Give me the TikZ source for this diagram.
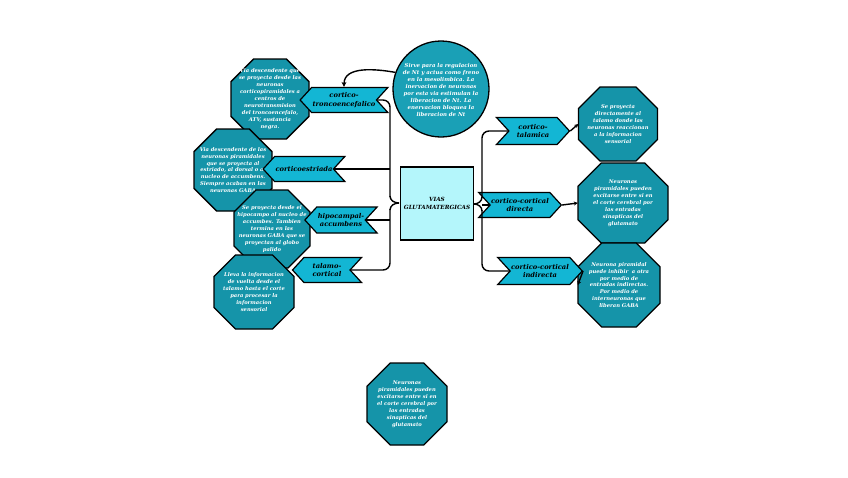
\documentclass[tikz,border=0pt]{standalone}
\usepackage{fontspec}
\setmainfont{DejaVu Serif}
\usetikzlibrary{shapes.geometric,shapes.symbols,arrows.meta}
\definecolor{octc}{HTML}{1594A9}
\definecolor{chevc}{HTML}{13B6D4}
\definecolor{circc}{HTML}{1AA0B6}
\definecolor{boxc}{HTML}{B4F6FB}
\tikzset{
  octline/.style={draw=black, line width=1.3pt, fill=octc},
  octtext/.style={inner sep=0pt, align=center, text=white, font=\fontsize{5.2}{6.9}\selectfont\bfseries\itshape},
  lab/.style={draw=black, line width=1.2pt, fill=chevc, signal, inner sep=1pt, align=center, font=\fontsize{6.7}{8.2}\selectfont\bfseries\itshape, minimum height=25pt},
  labL/.style={lab, signal to=west, signal from=east, signal pointer angle=95},
  labR/.style={lab, signal to=east, signal from=west, signal pointer angle=95},
  conn/.style={draw=black, line width=1.4pt},
}
\newcommand\octa[6]{%
  \pgfmathsetmacro\occ{0.29*min(#4,#5)}%
  \filldraw[octline] (#2-#4/2+\occ,#3-#5/2) -- (#2+#4/2-\occ,#3-#5/2) -- (#2+#4/2,#3-#5/2+\occ) -- (#2+#4/2,#3+#5/2-\occ) -- (#2+#4/2-\occ,#3+#5/2) -- (#2-#4/2+\occ,#3+#5/2) -- (#2-#4/2,#3+#5/2-\occ) -- (#2-#4/2,#3-#5/2+\occ) -- cycle;
  \node[octtext, minimum width=#4pt, minimum height=#5pt] (#1) at (#2,#3) {#6};
}
\begin{document}
\begin{tikzpicture}[x=1pt,y=-1pt]
\useasboundingbox[fill=white] (0,0) rectangle (848,477);

% central box
\node[draw=black, line width=1.3pt, fill=boxc, minimum width=72pt, minimum height=73pt, align=center, font=\fontsize{5.7}{8}\selectfont\bfseries\itshape] (box) at (437,203.5) {VIAS\\GLUTAMATERGICAS};

% circle
\node[circle, draw=black, line width=1.3pt, fill=circc, minimum size=96pt, inner sep=0pt] (circ) at (441,89) {};
\node[octtext, font=\fontsize{5.4}{7.1}\selectfont\bfseries\itshape] (circt) at (441,90) {Sirve para la regulacion\\de Nt y actua como freno\\en la mesolimbica. La\\inervacion de neuronas\\por esta via estimulan la\\liberacion de Nt. La\\enervacion bloquea la\\liberacion de Nt};

% left octagons
\octa{o1}{270}{99}{78}{80}{Via descendente que\\se proyecta desde las\\neuronas\\corticopiramidales a\\centros de\\neurotransmision\\del troncoencefalo,\\ATV, sustancia\\negra.}
\octa{o2}{233}{170}{78}{82}{Via descendente de las\\neuronas piramidales\\que se proyecta al\\estriado, al dorsal o al\\nucleo de accumbens.\\Siempre acaban en las\\neuronas GABA}
\octa{o3}{272}{229}{76}{78}{Se proyecta desde el\\hipocampo al nucleo de\\accumbes. Tambien\\termina en las\\neuronas GABA que se\\proyectan al globo\\palido}
\octa{o4}{254}{292}{80}{74}{Lleva la informacion\\de vuelta desde el\\talamo hasta el corte\\para procesar la\\informacion\\sensorial}

% right octagons
\octa{r1}{618}{124}{79}{74}{Se proyecta\\directamente al\\talamo donde las\\neuronas reaccionan\\a la informacion\\sensorial}
\octa{r2}{623}{203}{90}{80}{Neuronas\\piramidales pueden\\excitarse entre si en\\el corte cerebral por\\las entradas\\sinapticas del\\glutamato}
\octa{r3}{619}{285}{82}{84}{Neurona piramidal\\puede inhibir \ a otra\\por medio de\\entradas indirectas.\\Por medio de\\interneuronas que\\liberan GABA}

% bottom octagon
\octa{b1}{407}{404}{80}{82}{Neuronas\\piramidales pueden\\excitarse entre si en\\el corte cerebral por\\las entradas\\sinapticas del\\glutamato}

% left labels
\node[labL, minimum width=72pt] (L1) at (344,100) {cortico-\\troncoencefalico};
\node[labL, minimum width=72pt] (L2) at (304,169) {corticoestriada};
\node[labL, minimum width=66pt, minimum height=26pt] (L3) at (341,220) {hipocampal-\\accumbens};
\node[labL, minimum width=69pt] (L4) at (327,270) {talamo-\\cortical};

% right labels
\node[labR, minimum width=73pt, minimum height=27pt] (R1) at (533,131) {cortico-\\talamica};
\node[labR, minimum width=71pt] (R2) at (520,205) {cortico-cortical\\directa};
\node[labR, minimum width=72pt, minimum height=27pt] (R3) at (540,271) {cortico-cortical\\indirecta};

% left brace
\coordinate (lt) at (399,203);
\draw[conn, rounded corners=7pt] (L1.east) -- (390,100) -- (390,197);
\draw[conn] (390,196) to[out=-90,in=180] (lt);
\draw[conn] (390,210) to[out=90,in=180] (lt);
\draw[conn, rounded corners=7pt] (L4.east) -- (390,270) -- (390,209);
\draw[conn] (L2.east) -- (390,169);
\draw[conn] (L3.east) -- (390,220);

% right brace
\coordinate (rt) at (474,204);
\draw[conn, rounded corners=7pt] (R1.west) -- (482,131) -- (482,198);
\draw[conn] (482,197) to[out=-90,in=0] (rt);
\draw[conn] (482,211) to[out=90,in=0] (rt);
\draw[conn, rounded corners=7pt] (R3.west) -- (482,271) -- (482,210);
\draw[conn] (R2.west) -- (482,205);

% arrows to octagons
\draw[conn, -{Stealth[length=4pt,width=4pt]}] (R1.east) -- (r1.west);
\draw[conn, -{Stealth[length=4pt,width=4pt]}] (R2.east) -- (r2.west);
\draw[conn, -{Stealth[length=4pt,width=4pt]}] (R3.east) -- (r3.west);

% arrow from circle to L1
\draw[conn, -{Stealth[length=5pt,width=5pt]}] (circ.160) to[out=170,in=90] (L1.north);
\end{tikzpicture}
\end{document}
